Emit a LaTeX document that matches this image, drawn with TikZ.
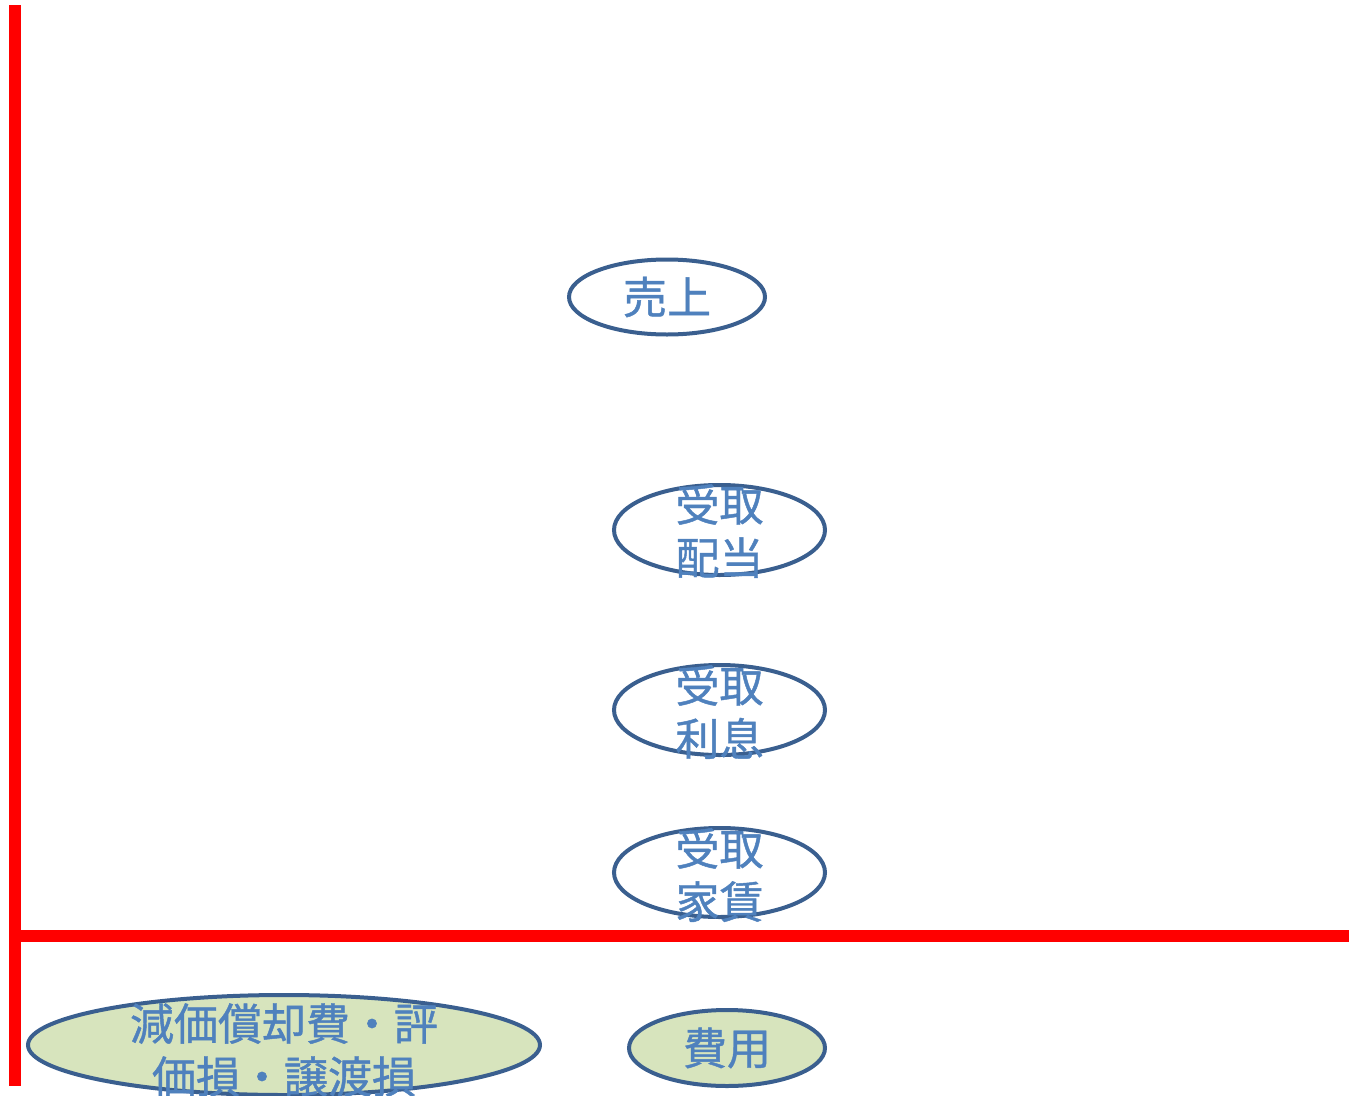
\documentclass[tikz,border=0pt]{standalone}
\usepackage{fontspec}
\setmainfont{Noto Sans CJK JP}[FakeBold=1.0]
\usetikzlibrary{shapes.geometric}
\definecolor{ebord}{RGB}{58,95,143}
\definecolor{etext}{RGB}{79,129,189}
\definecolor{efill}{RGB}{215,228,189}
\definecolor{redline}{RGB}{255,0,0}
\tikzset{
  oval/.style={ellipse, draw=ebord, line width=4pt, inner sep=0pt},
  lbl/.style={text=etext, font=\fontsize{44}{53}\selectfont, align=center, inner sep=0pt},
  axis/.style={draw=redline, line width=12pt}
}
\begin{document}
\begin{tikzpicture}[x=1pt,y=-1pt]
\useasboundingbox (0,0) rectangle (1349,1095);
% axes
\coordinate (vtop) at (15,5);
\coordinate (vbot) at (15,1086);
\coordinate (hl) at (9,935.5);
\coordinate (hr) at (1349,935.5);
\draw[axis] (vtop) -- (vbot);
\draw[axis] (hl) -- (hr);
% ellipses
\node[oval, minimum width=196pt, minimum height=75pt] (uri) at (667,297) {};
\node[lbl] (uriT) at (uri.center) {売上};
\node[oval, minimum width=211pt, minimum height=90pt] (hai) at (719.5,530) {};
\node[lbl] (haiT) at (719.5,531) {受取\\配当};
\node[oval, minimum width=211pt, minimum height=90pt] (ris) at (719.5,710) {};
\node[lbl] (risT) at (719.5,712) {受取\\利息};
\node[oval, minimum width=211pt, minimum height=89pt] (yac) at (719.5,872.5) {};
\node[lbl] (yacT) at (719.5,875) {受取\\家賃};
\node[oval, fill=efill, minimum width=196pt, minimum height=76pt] (hiy) at (727,1048) {};
\node[lbl] (hiyT) at (hiy.center) {費用};
\node[oval, fill=efill, minimum width=512pt, minimum height=100pt] (gen) at (284,1045) {};
\node[lbl] (genT) at (284,1050) {減価償却費・評\\価損・譲渡損};
\end{tikzpicture}
\end{document}
